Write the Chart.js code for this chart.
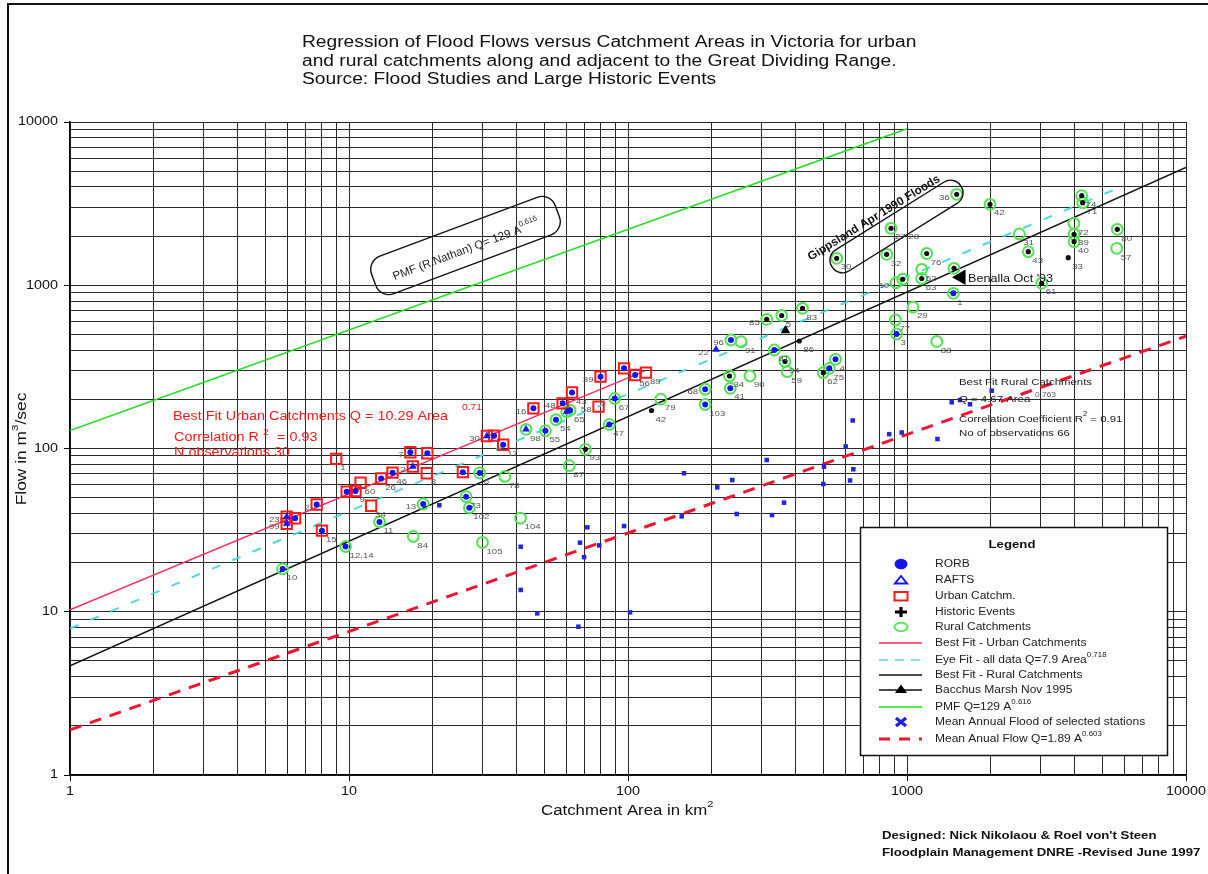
<!DOCTYPE html>
<html>
<head>
<meta charset="utf-8">
<script src="https://cdn.jsdelivr.net/npm/chart.js@4.4.1/dist/chart.umd.min.js"></script>
<style>
  html, body { margin: 0; padding: 0; background: #fff; }
  canvas { display: block; }
</style>
</head>
<body>
<canvas id="chart" width="1208" height="874"></canvas>
<script>
// ---- Axis ticks ----
const decades = [1, 10, 100, 1000, 10000];
const minorSteps = [2, 3, 4, 5, 6, 7, 8, 9];

// ---- Urban catchments: [area km2, flow m3/s, site no., model shown inside] ----
const urbanSites = [
  [5.98, 38.2, '23', 'RAFTS'], [5.98, 34.6, '99', 'RAFTS'], [6.41, 37.4, '', 'RORB'],
  [7.66, 45.4, '2', 'RORB'], [8.0, 31.4, '15', 'RORB'], [9.0, 86.3, '1', ''],
  [9.81, 54.4, '', 'RORB'], [10.55, 54.9, '9', 'RORB'], [11.0, 61.7, '60', ''],
  [12.0, 44.6, '34', ''], [13.04, 65.5, '26', 'RORB'], [14.32, 71.1, '46', 'RORB'],
  [16.59, 94.8, '7', 'RORB'], [16.93, 77.6, '2', 'RAFTS'], [19.08, 93.5, '', 'RORB'],
  [19.0, 70.5, '8', ''], [25.6, 71.6, '', 'RORB'], [31.2, 119.3, '30', 'RAFTS'],
  [33.1, 119.8, '', 'RORB'], [35.7, 105.4, '17', 'RORB'], [45.8, 176.3, '16', 'RORB'],
  [58.3, 189.2, '48', 'RORB'], [63.0, 220.3, '43', 'RORB'], [78.4, 180.3, '58', ''],
  [79.7, 275.3, '39', 'RORB'], [96.8, 309.9, '', 'RORB'], [106.1, 281.9, '56', 'RORB'],
  [116.0, 291.3, '89', '']
];

// ---- Rural catchments: [area km2, flow m3/s, site no., model / historic event] ----
const ruralSites = [
  [5.78, 18.3, '10', 'RORB'], [9.72, 25.1, '12,14', 'RORB'], [12.86, 35.5, '11', 'RORB'],
  [17.0, 28.9, '84', ''], [18.45, 45.7, '13', 'RORB'], [26.3, 50.7, '73', 'RORB'],
  [27.0, 43.4, '102', 'RORB'], [29.4, 70.8, '6', 'RORB'], [30.1, 26.6, '105', ''],
  [36.2, 67.4, '78', ''], [41.2, 37.4, '104', ''], [43.1, 131.1, '98', 'RAFTS'],
  [50.6, 128.6, '55', 'RORB'], [55.2, 150.1, '54', 'RORB'], [60.3, 168.1, '', 'RAFTS'],
  [62.0, 171.4, '65', 'RORB'], [61.6, 78.5, '87', ''], [70.4, 98.9, '93', 'HIST'],
  [85.7, 140.3, '47', 'RORB'], [89.6, 202.4, '67', 'RORB'], [131.1, 200.4, '79', ''],
  [189.1, 230.8, '68', 'RORB'], [189.1, 186.0, '103', 'RORB'], [231.1, 278.0, '34', 'HIST'],
  [232.6, 233.8, '41', 'RORB'], [233.9, 461.9, '96', 'RORB'], [254.1, 451.0, '91', ''],
  [273.7, 278.0, '90', ''], [314.2, 618.5, '85', 'HIST'], [355.5, 652.6, '5', 'HIST'],
  [422.2, 722.4, '83', 'HIST'], [334.5, 401.2, '81', 'RORB'], [365.4, 341.2, '94', 'HIST'],
  [372.4, 295.4, '59', ''], [554.3, 351.9, '4', 'RORB'], [526.6, 309.9, '75', 'RORB'],
  [501.2, 291.3, '62', 'HIST'], [559.8, 1462.6, '30', 'HIST'], [845.7, 1547, '32', 'HIST'],
  [876.4, 2233, '27,28', 'HIST'], [1507, 3606, '36', 'HIST'], [1984, 3133, '42', 'HIST'],
  [913.2, 1036, '50', ''], [965.2, 1088, '', 'HIST'], [1051, 733.7, '29', ''],
  [909.5, 612.5, '77', ''], [917.1, 502.8, '3', 'RORB'], [1129, 1252, '52', ''],
  [1129, 1100, '63', 'HIST'], [1176.6, 1565, '76', 'HIST'], [1474, 1270, '', 'HIST'],
  [1466, 892.6, '1', 'RORB'], [1278, 452.2, '88', ''], [2527, 2061, '31', ''],
  [2721, 1605, '43', 'HIST'], [3040, 1028, '61', 'HIST'], [4228, 3536, '74', 'HIST'],
  [4263, 3204, '71', 'HIST'], [3967, 2396, '72', ''], [3970, 2052, '39', 'HIST'],
  [3970, 1849, '40', 'HIST'], [5673, 2201, '80', 'HIST'], [5645, 1684, '57', '']
];

// ---- Historic events and RAFTS runs without a catchment marker ----
const historicOnly = [[411.2, 455.4, '86'], [3785, 1475, '33'], [121.4, 170.9, '42']];
const raftsOnly = [[206.8, 404.1, '22']];

// ---- Mean annual flood of selected stations: [area km2, flow m3/s] ----
const meanAnnualFlood = [
  [21.07, 44.9], [41.25, 25.0], [41.25, 13.6], [47.3, 9.78], [66.4, 8.1], [101.7, 9.92],
  [71.5, 32.9], [67.3, 26.5], [78.9, 25.5], [69.6, 21.6], [96.8, 33.5], [158.8, 70.5],
  [208.9, 57.8], [236.5, 64.1], [314.2, 85.0], [362.4, 46.6], [245.3, 39.7], [328.2, 39.1],
  [155.8, 38.4], [504.1, 77.4], [501.2, 60.6], [603, 102.9], [639, 148.5], [642.2, 74.6],
  [625, 63.7], [863.4, 122.4], [957.2, 125.3], [1286, 114.3], [1446, 191.9], [1549, 198.2],
  [1682, 186.6], [2012, 226], [10950, 416.8]
];

// ---- Individual large floods ----
const bacchusMarsh = [[366.8, 528.2]];
const benalla = [[1562, 1119]];

// ---- Relationships Q = c * A^e : [c, e, first area, last area] ----
const urbanFit = [10.29, 0.71, 1, 115];
const ruralFit = [4.67, 0.763, 1, 10000];
const eyeFit = [7.9, 0.718, 1, 5500];
const pmfLine = [129, 0.616, 1, 1000];
const meanFlowLine = [1.89, 0.603, 1, 10000];

// ---- Legend entries: [text, superscript] ----
const legendEntries = [
  ['RORB'], ['RAFTS'], ['Urban Catchm.'], ['Historic Events'], ['Rural Catchments'],
  ['Best Fit - Urban Catchments'], ['Eye Fit - all data Q=7.9 Area', '0.718'],
  ['Best Fit - Rural Catchments'], ['Bacchus Marsh Nov 1995'], ['PMF Q=129 A', '0.616'],
  ['Mean Annual Flood of selected stations'], ['Mean Anual Flow Q=1.89 A', '0.603']
];

const titleLines = [
  'Regression of Flood Flows versus Catchment Areas in Victoria for urban',
  'and rural catchments along and adjacent to the Great Dividing Range.',
  'Source: Flood Studies and Large Historic Events'
];
const creditLines = [
  "Designed: Nick Nikolaou & Roel von't Steen",
  'Floodplain Management DNRE -Revised June 1997'
];

// ---------------------------------------------------------------------------
const FONT = "'Liberation Sans', Arial, Helvetica, sans-serif";
const SX = 1.2;   // text in this sheet is set slightly wide

const gridValues = [];
decades.forEach((d, i) => {
  gridValues.push(d);
  if (i < decades.length - 1) minorSteps.forEach(m => gridValues.push(d * m));
});
const isDecade = v => decades.includes(v);

const pt = s => ({ x: s[0], y: s[1] });
const fitPts = ([c, e, a0, a1]) => [a0, a1].map(a => ({ x: a, y: c * Math.pow(a, e) }));
const allSites = urbanSites.concat(ruralSites);

function drawText(ctx, s, x, y, font, color, align, sx) {
  sx = sx || SX;
  ctx.save();
  ctx.font = font;
  ctx.fillStyle = color;
  ctx.textBaseline = 'middle';
  ctx.textAlign = 'left';
  const w = ctx.measureText(s).width * sx;
  const x0 = align === 'right' ? x - w : align === 'center' ? x - w / 2 : x;
  ctx.translate(x0, y);
  ctx.scale(sx, 1);
  ctx.fillText(s, 0, 0);
  ctx.restore();
  return w;
}

// parts: [[text, isSuperscript], ...]
function richWidth(ctx, parts, size, weight, sx) {
  let w = 0;
  for (const [s, sup] of parts) {
    ctx.font = `${weight || ''} ${sup ? size * 0.66 : size}px ${FONT}`;
    w += ctx.measureText(s).width * sx;
  }
  return w;
}
function drawRich(ctx, parts, x, y, size, color, weight, sx) {
  sx = sx || SX;
  let cx = x;
  for (const [s, sup] of parts) {
    const fs = sup ? size * 0.66 : size;
    cx += drawText(ctx, s, cx, sup ? y - size * 0.45 : y, `${weight || ''} ${fs}px ${FONT}`, color, 'left', sx);
  }
  return cx - x;
}

function roundedPath(ctx, x, y, w, h, r) {
  ctx.beginPath();
  ctx.moveTo(x + r, y);
  ctx.lineTo(x + w - r, y);
  ctx.arcTo(x + w, y, x + w, y + r, r);
  ctx.lineTo(x + w, y + h - r);
  ctx.arcTo(x + w, y + h, x + w - r, y + h, r);
  ctx.lineTo(x + r, y + h);
  ctx.arcTo(x, y + h, x, y + h - r, r);
  ctx.lineTo(x, y + r);
  ctx.arcTo(x, y, x + r, y, r);
  ctx.closePath();
}

function calloutBox(ctx, cx, cy, w, h, deg, r) {
  ctx.save();
  ctx.translate(cx, cy);
  ctx.rotate(deg * Math.PI / 180);
  roundedPath(ctx, -w / 2, -h / 2, w, h, r);
  ctx.strokeStyle = '#111';
  ctx.lineWidth = 1.4;
  ctx.stroke();
  ctx.restore();
}

function rotatedRich(ctx, parts, cx, cy, deg, size, color, weight) {
  ctx.save();
  ctx.translate(cx, cy);
  ctx.rotate(deg * Math.PI / 180);
  const w = richWidth(ctx, parts, size, weight, 1);
  drawRich(ctx, parts, -w / 2, 0, size, color, weight, 1);
  ctx.restore();
}

const leftUrban = new Set(['23', '99', '2', '7', '30', '48', '58', '39', '16']);
const leftRural = new Set(['13', '68', '96', '85', '50', '36']);
const leftOther = new Set(['22']);

function siteLabels(ctx, xs, ys, sites, leftSet) {
  const f = `8px ${FONT}`;
  for (const s of sites) {
    const lbl = s[2];
    if (!lbl) continue;
    const px = xs.getPixelForValue(s[0]);
    const py = ys.getPixelForValue(s[1]);
    if (leftSet.has(lbl)) drawText(ctx, lbl, px - 7, py + 3, f, '#555', 'right');
    else drawText(ctx, lbl, px + 4, py + 9, f, '#555', 'left');
  }
}

function drawLegend(ctx) {
  const L = 860, T = 527, W = 307, H = 228;
  ctx.save();
  ctx.fillStyle = '#fff';
  ctx.fillRect(L, T, W, H);
  ctx.strokeStyle = '#111';
  ctx.lineWidth = 1.5;
  ctx.strokeRect(L + 0.5, T + 0.5, W, H);
  drawText(ctx, 'Legend', 1012, 545, `bold 11px ${FONT}`, '#111', 'center');
  const rows = [564, 580, 596, 612, 627, 643, 660, 675, 690, 707, 722, 739];
  const sx = 901, x0 = 879, x1 = 922, tx = 935;
  const line = (y, color, width, dash) => {
    ctx.save();
    ctx.strokeStyle = color; ctx.lineWidth = width; ctx.setLineDash(dash || []);
    ctx.beginPath(); ctx.moveTo(x0, y); ctx.lineTo(x1, y); ctx.stroke();
    ctx.restore();
  };
  rows.forEach((y, i) => {
    ctx.save();
    switch (i) {
      case 0:
        ctx.fillStyle = '#1414f0';
        ctx.beginPath(); ctx.ellipse(sx, y, 6.5, 5.2, 0, 0, Math.PI * 2); ctx.fill();
        break;
      case 1:
        ctx.strokeStyle = '#1414f0'; ctx.lineWidth = 2;
        ctx.beginPath(); ctx.moveTo(sx, y - 4); ctx.lineTo(sx + 6, y + 3.5); ctx.lineTo(sx - 6, y + 3.5); ctx.closePath(); ctx.stroke();
        break;
      case 2:
        ctx.strokeStyle = '#ff1a1a'; ctx.lineWidth = 2;
        ctx.strokeRect(sx - 6.5, y - 4, 13, 8.5);
        break;
      case 3:
        ctx.strokeStyle = '#000'; ctx.lineWidth = 3.2;
        ctx.beginPath(); ctx.moveTo(sx - 6, y); ctx.lineTo(sx + 6, y); ctx.moveTo(sx, y - 5); ctx.lineTo(sx, y + 5); ctx.stroke();
        break;
      case 4:
        ctx.strokeStyle = '#55e855'; ctx.lineWidth = 2;
        ctx.beginPath(); ctx.ellipse(sx, y, 6.5, 4.2, 0, 0, Math.PI * 2); ctx.stroke();
        break;
      case 5: line(y, '#ff2a5a', 1.5); break;
      case 6: line(y, '#7ee6e6', 2, [9, 7]); break;
      case 7: line(y, '#111', 1.5); break;
      case 8:
        line(y, '#111', 1.5);
        ctx.fillStyle = '#000';
        ctx.beginPath(); ctx.moveTo(sx, y - 5.5); ctx.lineTo(sx + 6, y + 3); ctx.lineTo(sx - 6, y + 3); ctx.closePath(); ctx.fill();
        break;
      case 9: line(y, '#1ee01e', 1.5); break;
      case 10:
        ctx.strokeStyle = '#2020e0'; ctx.lineWidth = 3.4;
        ctx.beginPath(); ctx.moveTo(sx - 5, y - 4); ctx.lineTo(sx + 5, y + 4); ctx.moveTo(sx + 5, y - 4); ctx.lineTo(sx - 5, y + 4); ctx.stroke();
        break;
      case 11: line(y, '#ee1530', 3, [11, 9]); break;
    }
    ctx.restore();
    const e = legendEntries[i];
    const parts = [[e[0], false]];
    if (e[1]) parts.push([e[1], true]);
    drawRich(ctx, parts, tx, y, 10, '#222', '');
  });
  ctx.restore();
}

const decor = {
  id: 'decor',
  beforeDraw(chart) {
    const ctx = chart.ctx;
    ctx.save();
    ctx.fillStyle = '#fff';
    ctx.fillRect(0, 0, chart.width, chart.height);
    ctx.restore();
  },
  afterDatasetsDraw(chart) {
    const ctx = chart.ctx, xs = chart.scales.x, ys = chart.scales.y;
    siteLabels(ctx, xs, ys, urbanSites, leftUrban);
    siteLabels(ctx, xs, ys, ruralSites, leftRural);
    siteLabels(ctx, xs, ys, historicOnly, leftOther);
    siteLabels(ctx, xs, ys, raftsOnly, leftOther);
  },
  afterDraw(chart) {
    const ctx = chart.ctx, xs = chart.scales.x, ys = chart.scales.y;

    // tick labels
    decades.forEach(v => {
      drawText(ctx, String(v), xs.getPixelForValue(v), 792, `12px ${FONT}`, '#111', 'center');
      drawText(ctx, String(v), 58, ys.getPixelForValue(v), `12px ${FONT}`, '#111', 'right');
    });

    // axis titles
    drawRich(ctx, [['Catchment Area in km', false], ['2', true]], 541, 811, 14, '#111', '');
    ctx.save();
    ctx.translate(22, 449);
    ctx.rotate(-Math.PI / 2);
    const yParts = [['Flow in m', false], ['3', true], ['/sec', false]];
    const yw = richWidth(ctx, yParts, 14.5, '', SX);
    drawRich(ctx, yParts, -yw / 2, 0, 14.5, '#111', '', SX);
    ctx.restore();

    // title
    titleLines.forEach((t, i) => drawText(ctx, t, 302, 43 + i * 18.5, `16px ${FONT}`, '#111', 'left'));

    // urban regression note
    const red = '#f21a1a';
    drawText(ctx, 'Best Fit Urban Catchments Q = 10.29 Area', 173, 417, `12px ${FONT}`, red, 'left');
    drawText(ctx, '0.71', 462, 408, `8.5px ${FONT}`, red, 'left');
    drawText(ctx, 'Correlation R', 174, 438, `12px ${FONT}`, red, 'left');
    drawText(ctx, '2', 263, 433, `8.5px ${FONT}`, red, 'left');
    drawText(ctx, '= 0.93', 277, 438, `12px ${FONT}`, red, 'left');
    drawText(ctx, 'N observations 30', 174, 453, `12px ${FONT}`, red, 'left');

    // rural regression note
    const dk = '#222';
    drawText(ctx, 'Best Fit Rural Catchments', 959, 382.5, `9.5px ${FONT}`, dk, 'left');
    drawText(ctx, 'Q = 4.67 Area', 959, 399.5, `9.5px ${FONT}`, dk, 'left');
    drawText(ctx, '0.763', 1035, 395, `7px ${FONT}`, '#555', 'left');
    drawRich(ctx, [['Correlation Coefficient R', false], ['2', true], [' = 0.91', false]], 959, 419, 9.5, dk, '');
    drawText(ctx, 'No of observations 66', 959, 433, `9.5px ${FONT}`, dk, 'left');

    // PMF callout
    calloutBox(ctx, 465.5, 245.5, 196, 40, -20.5, 14);
    rotatedRich(ctx, [['PMF (R.Nathan) Q= 129 A', false], ['0.616', true]], 466, 250, -20.5, 11.5, '#222', '');

    // Gippsland callout
    calloutBox(ctx, 896.5, 226.5, 152, 25, -32, 12);
    rotatedRich(ctx, [['Gippsland Apr 1990 Floods', false]], 874, 218, -31.5, 11.8, '#111', 'bold');

    // Benalla note
    drawText(ctx, "Benalla Oct '93", 968, 279, `10.5px ${FONT}`, '#111', 'left');

    drawLegend(ctx);

    // credits
    creditLines.forEach((t, i) => drawText(ctx, t, 882, 836 + i * 17, `bold 11px ${FONT}`, '#111', 'left'));

    // sheet frame
    ctx.save();
    ctx.strokeStyle = '#111';
    ctx.lineWidth = 2;
    ctx.beginPath();
    ctx.moveTo(8, 880); ctx.lineTo(8, 4); ctx.lineTo(1210, 4);
    ctx.stroke();
    ctx.restore();
  }
};

const tickColor = c => (c.tick && isDecade(c.tick.value)) ? '#000' : 'rgba(0,0,0,0)';

new Chart(document.getElementById('chart'), {
  type: 'scatter',
  data: {
    datasets: [
      { label: 'RORB', data: allSites.filter(s => s[3] === 'RORB').map(pt),
        pointStyle: 'circle', pointRadius: 3, backgroundColor: '#1414f0', borderColor: '#1414f0', borderWidth: 0, order: 0 },
      { label: 'RAFTS', data: allSites.filter(s => s[3] === 'RAFTS').concat(raftsOnly).map(pt),
        pointStyle: 'triangle', pointRadius: 4, backgroundColor: '#1414f0', borderColor: '#1414f0', borderWidth: 0.5, order: 0 },
      { label: 'Historic Events', data: ruralSites.filter(s => s[3] === 'HIST').concat(historicOnly).map(pt),
        pointStyle: 'circle', pointRadius: 2.6, backgroundColor: '#111', borderColor: '#111', borderWidth: 0, order: 0 },
      { label: 'Bacchus Marsh Nov 1995', data: bacchusMarsh.map(pt),
        pointStyle: 'triangle', pointRadius: 5.5, backgroundColor: '#000', borderColor: '#000', borderWidth: 0, order: 0 },
      { label: "Benalla Oct '93", data: benalla.map(pt),
        pointStyle: 'triangle', pointRotation: -90, pointRadius: 9, backgroundColor: '#000', borderColor: '#000', borderWidth: 0, order: 0 },
      { label: 'Mean Annual Flood of selected stations', data: meanAnnualFlood.map(pt), clip: false,
        pointStyle: 'rect', pointRadius: 3.2, backgroundColor: '#2424dc', borderColor: '#2424dc', borderWidth: 0, order: 1 },
      { label: 'Urban Catchm.', data: urbanSites.map(pt),
        pointStyle: 'rect', pointRadius: 7.3, backgroundColor: 'rgba(0,0,0,0)', borderColor: '#ff1a1a', borderWidth: 2, order: 2 },
      { label: 'Rural Catchments', data: ruralSites.map(pt),
        pointStyle: 'circle', pointRadius: 5.4, backgroundColor: 'rgba(0,0,0,0)', borderColor: '#52e252', borderWidth: 2, order: 3 },
      { label: 'Best Fit - Urban Catchments', data: fitPts(urbanFit), showLine: true, pointRadius: 0,
        borderColor: '#ff2a5a', borderWidth: 1.5, order: 5 },
      { label: 'Eye Fit - all data', data: fitPts(eyeFit), showLine: true, pointRadius: 0,
        borderColor: 'rgba(70,215,215,0.95)', borderWidth: 2, borderDash: [9, 13], order: 5 },
      { label: 'Best Fit - Rural Catchments', data: fitPts(ruralFit), showLine: true, pointRadius: 0,
        borderColor: '#111', borderWidth: 1.5, order: 5 },
      { label: 'PMF', data: fitPts(pmfLine), showLine: true, pointRadius: 0,
        borderColor: '#1ee01e', borderWidth: 1.5, order: 5 },
      { label: 'Mean Anual Flow', data: fitPts(meanFlowLine), showLine: true, pointRadius: 0,
        borderColor: '#ee1530', borderWidth: 3, borderDash: [12, 9], order: 5 }
    ]
  },
  options: {
    responsive: false,
    animation: false,
    events: [],
    layout: { padding: { top: 122, right: 22, left: 0, bottom: 0 } },
    plugins: { legend: { display: false }, tooltip: { enabled: false }, title: { display: false } },
    scales: {
      x: {
        type: 'logarithmic', min: 1, max: 10000,
        afterBuildTicks: ax => { ax.ticks = gridValues.map(v => ({ value: v })); },
        afterFit: ax => { ax.height = 99; },
        ticks: { display: false, autoSkip: false },
        grid: { color: '#2a2a2a', lineWidth: 1, drawTicks: true, tickLength: 6, tickColor },
        border: { display: true, color: '#000', width: 1.5 }
      },
      y: {
        type: 'logarithmic', min: 1, max: 10000,
        afterBuildTicks: ax => { ax.ticks = gridValues.map(v => ({ value: v })); },
        afterFit: ax => { ax.width = 70; },
        ticks: { display: false, autoSkip: false },
        grid: { color: '#2a2a2a', lineWidth: 1, drawTicks: true, tickLength: 6, tickColor },
        border: { display: true, color: '#000', width: 1.5 }
      }
    }
  },
  plugins: [decor]
});
</script>
</body>
</html>
